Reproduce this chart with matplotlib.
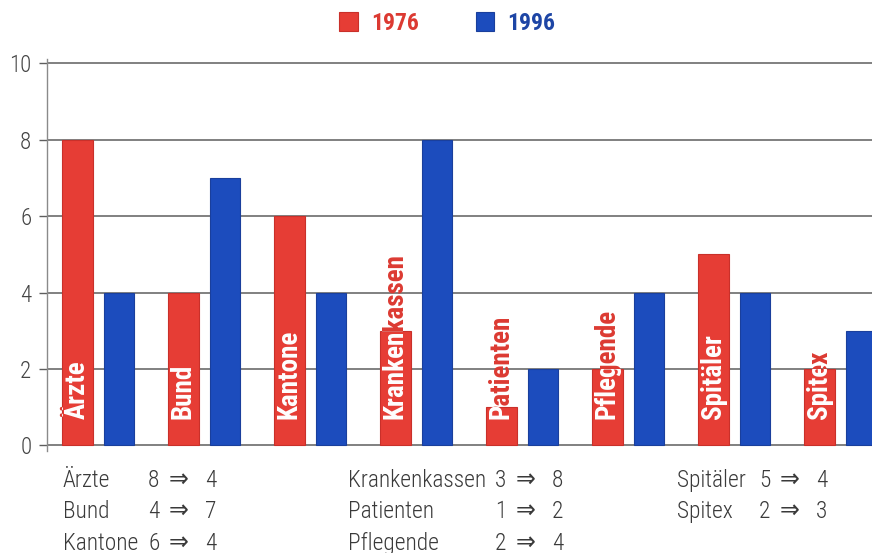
import numpy as np
import matplotlib
matplotlib.use('Agg')
from matplotlib import pyplot as plt

names = ['Ärzte', 'Bund', 'Kantone', 'Krankenkassen', 'Patienten', 'Pflegende', 'Spitäler', 'Spitex']
v1976 = [8, 4, 6, 3, 1, 2, 5, 2]
v1996 = [4, 7, 4, 8, 2, 4, 4, 3]
years = ['1976', '1996']
yticks = [0, 2, 4, 6, 8, 10]

RED = '#e63d35'
RED_EDGE = '#c9302a'
BLUE = '#1c4cbd'
BLUE_EDGE = '#1a3f9c'
RED_TXT = '#dc3a32'
BLUE_TXT = '#1d45a5'
GREY = '#5e5e5e'
TXT = '#3a3a3a'
FAM = ['Roboto Condensed', 'Roboto', 'DejaVu Sans']

plt.rcParams['font.family'] = FAM
plt.rcParams['font.stretch'] = 'condensed'

fig = plt.figure(figsize=(8.72, 5.53), dpi=100)
ax = fig.add_axes([47/872, 102/553, 825/872, 392/553])

x = np.arange(len(names))
off = 0.196
w = 0.29
red_bars = ax.bar(x - off, v1976, width=w, color=RED, edgecolor=RED_EDGE, linewidth=0.8, zorder=3)
blue_bars = ax.bar(x + off, v1996, width=w, color=BLUE, edgecolor=BLUE_EDGE, linewidth=0.8, zorder=3)

# names inside the red bars: red outside the bar, white where clipped to it
for bar, name in zip(red_bars, names):
    cx = bar.get_x() + bar.get_width() / 2
    kw = dict(rotation=90, ha='center', va='bottom', fontsize=19.5, fontweight='bold')
    ax.text(cx, 0.7, name, color=RED_TXT, zorder=4, **kw)
    t = ax.text(cx, 0.7, name, color='white', zorder=5, clip_on=True, **kw)
    t.set_clip_path(bar)

ax.set_xlim(-0.4835, 7.2995)
ax.set_ylim(-0.144, 10.11)
ax.set_yticks(yticks)
ax.set_xticks([])
ax.yaxis.grid(True, color=GREY, linewidth=1.1, zorder=1)
ax.set_axisbelow(True)
for s in ['top', 'right', 'bottom']:
    ax.spines[s].set_visible(False)
ax.spines['left'].set_color('#8a8a8a')
ax.spines['left'].set_linewidth(1.0)
ax.tick_params(axis='y', length=5.8, pad=5.5, width=1.0, color=GREY, labelsize=16.5, labelcolor='#444444')
for lab in ax.get_yticklabels():
    lab.set_fontweight('light')

fig.legend(handles=[red_bars, blue_bars], labels=years, loc='center',
           bbox_to_anchor=(0.513, 0.958), ncol=2, frameon=False,
           prop=dict(family=FAM, weight='bold', size=17, stretch='condensed'),
           labelcolor=[RED_TXT, BLUE_TXT], handlelength=0.8, handleheight=0.8,
           handletextpad=0.55, columnspacing=2.4)

# table below the chart
name_x = [63, 348, 677]
num_x = [148, 495, 759]
row_y = [487, 518, 550]
for i, (n, a, b) in enumerate(zip(names, v1976, v1996)):
    c, r = i // 3, i % 3
    y = 1 - row_y[r] / 553
    tk = dict(color=TXT, va='baseline', weight='light')
    fig.text(name_x[c] / 872, y, n, fontsize=16.8, **tk)
    fig.text(num_x[c] / 872, y, str(a), fontsize=16.8, **tk)
    fig.text((num_x[c] + 21) / 872, y, '⇒', fontsize=19, **tk)
    fig.text((num_x[c] + 57) / 872, y, str(b), fontsize=16.8, **tk)

fig.savefig('out.png', dpi=100)
